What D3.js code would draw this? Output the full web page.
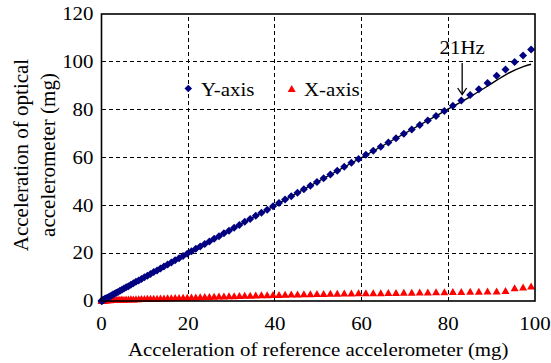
<!DOCTYPE html>
<html>
<head>
<meta charset="utf-8">
<script src="https://cdn.jsdelivr.net/npm/d3@7"></script>
<style>
  html, body { margin: 0; padding: 0; background: #fff; }
  svg { display: block; }
  text { font-family: "Liberation Serif", "Times New Roman", serif; fill: #000; }
</style>
</head>
<body>
<svg id="chart" width="551" height="363"></svg>
<script>
// Reference accelerometer readings (mg), one per sweep step
const refAccel = [
  0.01, 0.05, 0.11, 0.19, 0.29, 0.42, 0.58, 0.75, 0.95, 1.18,
  1.42, 1.69, 1.99, 2.31, 2.65, 3.01, 3.40, 3.81, 4.25, 4.71,
  5.19, 5.69, 6.22, 6.78, 7.35, 7.95, 8.58, 9.22, 9.89, 10.59,
  11.30, 12.05, 12.81, 13.60, 14.41, 15.25, 16.10, 16.99, 17.89, 18.82,
  19.77, 20.75, 21.75, 22.77, 23.82, 24.89, 25.98, 27.10, 28.24, 29.41,
  30.60, 31.81, 33.04, 34.30, 35.58, 36.89, 38.22, 39.57, 40.95, 42.35,
  43.77, 45.22, 46.69, 48.18, 49.70, 51.24, 52.80, 54.39, 56.00, 57.64,
  59.30, 60.98, 62.69, 64.42, 66.17, 67.94, 69.74, 71.57, 73.41, 75.28,
  77.18, 79.10, 81.05, 83.00, 85.05, 87.05, 89.05, 91.15, 93.20, 95.30,
  97.25, 99.10
];

// Optical accelerometer, Y-axis channel (mg)
const yAxisAccel = [
  0.0, 0.1, 0.1, 0.2, 0.3, 0.4, 0.6, 0.8, 1.0, 1.2,
  1.4, 1.7, 2.0, 2.3, 2.7, 3.0, 3.4, 3.8, 4.3, 4.7,
  5.2, 5.7, 6.2, 6.8, 7.4, 8.0, 8.6, 9.2, 9.9, 10.6,
  11.3, 12.1, 12.8, 13.6, 14.4, 15.3, 16.1, 17.0, 17.9, 18.8,
  19.8, 20.8, 21.8, 22.8, 23.8, 24.9, 26.0, 27.1, 28.3, 29.4,
  30.6, 31.8, 33.1, 34.3, 35.6, 36.9, 38.2, 39.6, 41.0, 42.4,
  43.8, 45.3, 46.7, 48.2, 49.8, 51.3, 52.9, 54.5, 56.1, 57.8,
  59.4, 61.1, 62.8, 64.5, 66.3, 68.1, 69.9, 71.7, 73.6, 75.5,
  77.4, 79.4, 81.6, 83.8, 86.1, 88.5, 91.2, 94.2, 96.8, 99.9,
  102.7, 105.2
];

// Optical accelerometer, X-axis channel (mg)
const xAxisAccel = [
  0.3, 0.3, 0.4, 0.3, 0.4, 0.4, 0.5, 0.4, 0.5, 0.5,
  0.5, 0.6, 0.5, 0.6, 0.6, 0.7, 0.6, 0.7, 0.7, 0.8,
  0.7, 0.8, 0.8, 0.9, 0.8, 0.9, 0.9, 1.0, 1.0, 1.1,
  1.1, 1.2, 1.2, 1.3, 1.3, 1.4, 1.4, 1.5, 1.5, 1.6,
  1.6, 1.7, 1.7, 1.8, 1.9, 1.9, 2.0, 2.1, 2.1, 2.2,
  2.2, 2.3, 2.4, 2.4, 2.5, 2.6, 2.6, 2.7, 2.7, 2.8,
  2.9, 2.9, 3.0, 3.0, 3.1, 3.1, 3.2, 3.2, 3.3, 3.3,
  3.4, 3.4, 3.5, 3.5, 3.6, 3.6, 3.7, 3.7, 3.8, 3.8,
  3.9, 3.9, 4.0, 4.0, 4.1, 4.1, 4.2, 4.2, 4.4, 5.5,
  5.9, 6.3
];

// Solid reference curve (mg vs mg)
const curveRef = [0, 20, 40, 60, 80, 85.3, 89.3, 93.4, 97.3, 99.1];
const curveOut = [0, 20, 40, 60, 80.3, 85.7, 90.1, 94.8, 98.0, 99.0];

const xTicks = [0, 20, 40, 60, 80, 100];
const yTicks = [0, 20, 40, 60, 80, 100, 120];

const seriesNames = ["Y-axis", "X-axis"];
const seriesColors = ["#000080", "#ff0000"];

const svg = d3.select("#chart");
const x = d3.scaleLinear().domain([0, 100]).range([101.5, 535]);
const y = d3.scaleLinear().domain([0, 120]).range([301, 14]);

const FS = 19, SX = 1.1;
function label(px, py, str, anchor, opts) {
  const o = opts || {};
  const sx = o.sx || SX, sy = o.sy || 1;
  const g = svg.append("g")
    .attr("transform", `translate(${px},${py}) scale(${sx},${sy})` + (o.rot ? ` rotate(${o.rot})` : ""));
  g.append("text").attr("text-anchor", anchor || "start")
    .attr("font-size", o.fs || FS).text(str);
  return g;
}

// dashed grid
const grid = svg.append("g").attr("stroke", "#000").attr("stroke-width", 1)
  .attr("stroke-dasharray", "4,3").attr("shape-rendering", "crispEdges");
grid.selectAll("line.h").data(yTicks.filter(d => d > 0 && d < 120)).join("line")
  .attr("x1", x(0)).attr("x2", x(100)).attr("y1", d => y(d)).attr("y2", d => y(d));
grid.selectAll("line.v").data(xTicks.filter(d => d > 0 && d < 100)).join("line")
  .attr("y1", y(0)).attr("y2", y(120)).attr("x1", d => x(d)).attr("x2", d => x(d));

// axes (labels only, no tick marks)
const xAxis = d3.axisBottom(x).tickValues(xTicks).tickSize(0).tickPadding(0);
const yAxis = d3.axisLeft(y).tickValues(yTicks).tickSize(0).tickPadding(0);
const gx = svg.append("g").call(xAxis);
gx.select(".domain").remove();
gx.selectAll(".tick text").remove();
xTicks.forEach(t => label(x(t), 330, String(t), "middle"));
const gy = svg.append("g").call(yAxis);
gy.select(".domain").remove();
gy.selectAll(".tick text").remove();
yTicks.forEach(t => label(93.5, y(t) + 6.3, String(t), "end"));

// reference curve
const line = d3.line().x(d => x(d[0])).y(d => y(d[1])).curve(d3.curveMonotoneX);
svg.append("path").datum(d3.zip(curveRef, curveOut))
  .attr("fill", "none").attr("stroke", "#000").attr("stroke-width", 1.4)
  .attr("d", line);

// marker shapes
const diamond = r => `M0,${-r}L${r},0L0,${r}L${-r},0Z`;
const triangle = (w, h) => `M0,${-h / 2}L${w / 2},${h / 2}L${-w / 2},${h / 2}Z`;

svg.append("g").selectAll("path").data(d3.zip(refAccel, xAxisAccel)).join("path")
  .attr("transform", d => `translate(${x(d[0])},${y(d[1])})`)
  .attr("d", triangle(8, 7)).attr("fill", seriesColors[1]);

svg.append("g").selectAll("path").data(d3.zip(refAccel, yAxisAccel)).join("path")
  .attr("transform", d => `translate(${x(d[0])},${y(d[1])})`)
  .attr("d", diamond(4)).attr("fill", seriesColors[0]);

// plot frame
svg.append("rect").attr("x", x(0)).attr("y", y(120))
  .attr("width", x(100) - x(0)).attr("height", y(0) - y(120))
  .attr("fill", "none").attr("stroke", "#000").attr("stroke-width", 1.6);

// legend
svg.append("path").attr("transform", "translate(188.3,88.5)")
  .attr("d", diamond(3.8)).attr("fill", seriesColors[0]);
label(201, 96, seriesNames[0], "start");
svg.append("path").attr("transform", "translate(291.7,88.5)")
  .attr("d", triangle(8, 7)).attr("fill", seriesColors[1]);
label(304, 96, seriesNames[1], "start");

// 21 Hz annotation
const ax = x(83.2);
label(ax, 53.5, "21Hz", "middle");
svg.append("line").attr("x1", ax).attr("x2", ax).attr("y1", 63).attr("y2", 94)
  .attr("stroke", "#000").attr("stroke-width", 1.3);
svg.append("path").attr("d", `M${ax - 4.5},${88}L${ax},${94.5}L${ax + 4.5},${88}`)
  .attr("fill", "none").attr("stroke", "#000").attr("stroke-width", 1.3);

// axis titles
label((x(0) + x(100)) / 2, 356, "Acceleration of reference accelerometer (mg)", "middle");
label(27.5, 155, "Acceleration of optical", "middle", { rot: -90, sx: 1, fs: 21 });
label(54.5, 155, "accelerometer (mg)", "middle", { rot: -90, sx: 1, fs: 21 });
</script>
</body>
</html>
